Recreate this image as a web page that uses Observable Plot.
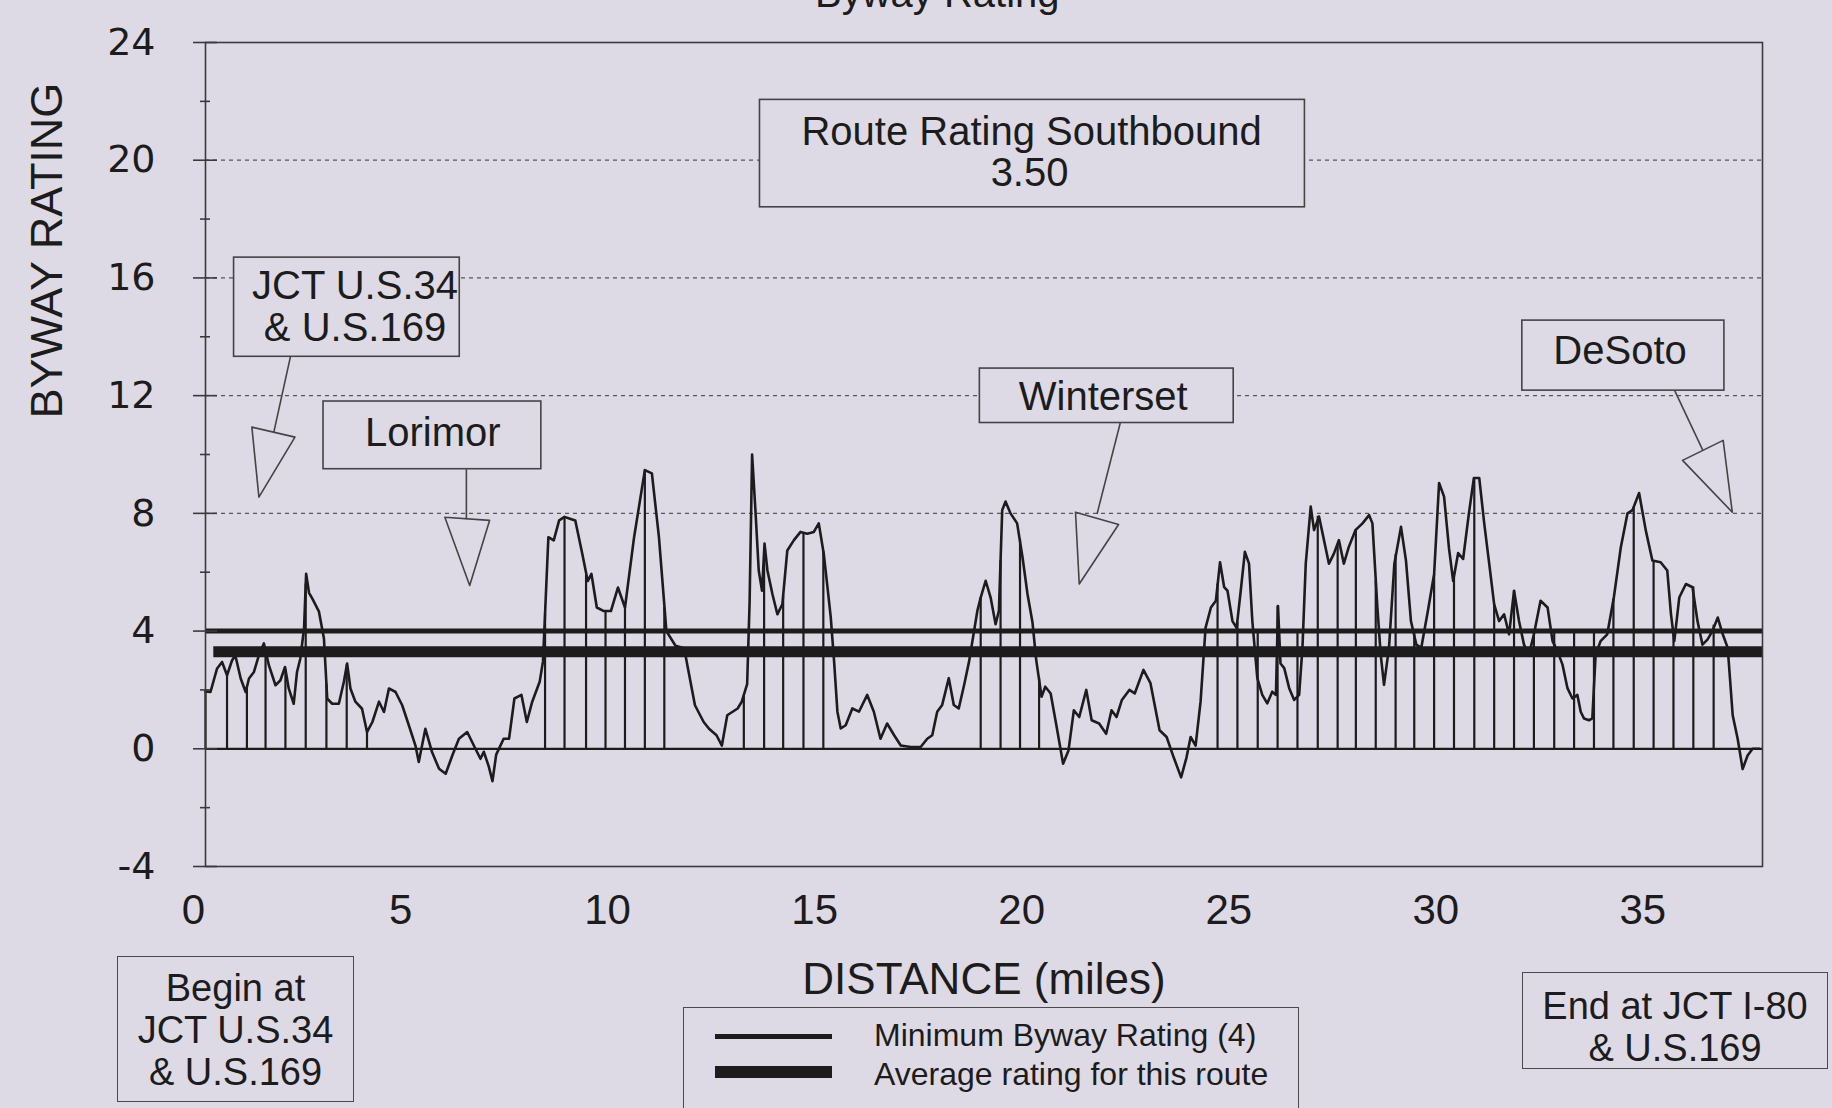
<!DOCTYPE html>
<html>
<head>
<meta charset="utf-8">
<script src="https://cdn.jsdelivr.net/npm/d3@7"></script>
<script src="https://cdn.jsdelivr.net/npm/@observablehq/plot@0.6"></script>
<style>
  html, body { margin: 0; padding: 0; background: #dedae5; overflow: hidden; }
  #wrap { position: relative; width: 1832px; height: 1108px; font-family: "Liberation Sans", Arial, sans-serif; color: #1c1c1c; }
  #chart { position: absolute; left: 0; top: 0; }
  .title { position: absolute; left: 815px; top: -30px; font-size: 40px; line-height: 46px; white-space: nowrap; }
  .box { position: absolute; box-sizing: border-box; border: 1.6px solid #4a4a4a; text-align: center; background: #dedae5; }
  #begin { left: 117px; top: 956px; width: 237px; height: 146px; font-size: 38px; line-height: 42px; padding-top: 10px; }
  #end { left: 1522px; top: 972px; width: 306px; height: 97px; font-size: 38px; line-height: 42px; padding-top: 12px; }
  #legend { left: 683px; top: 1007px; width: 616px; height: 130px; }
  .swatch { position: absolute; left: 715px; width: 117px; background: #1c1c1c; }
  .legtext { position: absolute; left: 874px; font-size: 32px; line-height: 30px; height: 30px; white-space: nowrap; }
</style>
</head>
<body>
<div id="wrap">
  <div id="chart"></div>
  <div class="title">Byway Rating</div>
  <div class="box" id="begin">Begin at<br>JCT U.S.34<br>&amp; U.S.169</div>
  <div class="box" id="end">End at JCT I-80<br>&amp; U.S.169</div>
  <div class="box" id="legend"></div>
  <div class="swatch" style="top:1034px;height:5px;"></div>
  <div class="swatch" style="top:1066px;height:12px;"></div>
  <div class="legtext" style="top:1020px;">Minimum Byway Rating (4)</div>
  <div class="legtext" style="top:1059px;">Average rating for this route</div>
</div>
<script>
// ---- data (distance in miles, byway rating) ----
const ratingProfile = [
[0.00,1.95],[0.12,1.93],[0.28,2.73],[0.40,2.95],[0.52,2.50],[0.64,3.00],[0.72,3.18],[0.85,2.39],[0.97,1.93],[1.05,2.39],
[1.17,2.61],[1.29,3.18],[1.41,3.58],[1.53,2.84],[1.69,2.16],[1.81,2.33],[1.92,2.78],[2.01,2.05],[2.13,1.53],[2.21,2.61],
[2.29,3.07],[2.38,4.09],[2.43,5.95],[2.50,5.30],[2.58,5.10],[2.74,4.66],[2.86,3.75],[2.94,1.70],[3.06,1.53],[3.22,1.53],
[3.34,2.27],[3.42,2.90],[3.50,2.05],[3.62,1.60],[3.78,1.36],[3.90,0.57],[4.03,0.91],[4.19,1.60],[4.31,1.25],[4.43,2.05],
[4.59,1.93],[4.75,1.48],[4.91,0.80],[5.07,0.11],[5.15,-0.45],[5.31,0.68],[5.47,-0.11],[5.64,-0.68],[5.80,-0.85],[5.96,-0.23],
[6.12,0.34],[6.32,0.57],[6.48,0.11],[6.64,-0.34],[6.72,-0.10],[6.84,-0.60],[6.93,-1.10],[7.02,-0.20],[7.20,0.34],[7.33,0.34],
[7.46,1.71],[7.63,1.83],[7.76,0.91],[7.89,1.60],[8.07,2.28],[8.15,2.97],[8.28,7.19],[8.41,7.08],[8.54,7.76],[8.67,7.88],
[8.80,7.82],[8.93,7.76],[9.10,6.62],[9.23,5.70],[9.32,5.94],[9.45,4.80],[9.62,4.68],[9.79,4.68],[9.96,5.48],[10.13,4.80],
[10.35,7.19],[10.61,9.47],[10.78,9.36],[10.95,7.19],[11.13,4.00],[11.35,3.50],[11.56,3.42],[11.65,2.74],[11.82,1.48],[12.03,0.91],
[12.16,0.68],[12.34,0.46],[12.47,0.11],[12.60,1.14],[12.85,1.37],[12.95,1.60],[13.08,2.20],[13.14,5.00],[13.20,10.00],[13.28,8.11],
[13.36,6.06],[13.44,5.37],[13.50,6.97],[13.57,6.06],[13.69,5.26],[13.81,4.57],[13.93,4.91],[14.05,6.74],[14.21,7.09],[14.37,7.37],
[14.53,7.31],[14.69,7.37],[14.81,7.66],[14.93,6.63],[15.02,5.49],[15.10,4.46],[15.18,2.97],[15.26,1.26],[15.34,0.69],[15.46,0.80],
[15.62,1.37],[15.78,1.26],[15.98,1.83],[16.14,1.26],[16.30,0.34],[16.46,0.86],[16.63,0.46],[16.79,0.11],[17.03,0.06],[17.27,0.06],
[17.43,0.34],[17.55,0.46],[17.67,1.26],[17.79,1.49],[17.95,2.40],[18.07,1.49],[18.19,1.37],[18.32,2.17],[18.44,2.97],[18.56,4.00],
[18.64,4.69],[18.72,5.14],[18.84,5.71],[18.96,5.14],[19.08,4.23],[19.16,4.69],[19.24,8.11],[19.32,8.40],[19.44,8.00],[19.60,7.66],
[19.73,6.51],[19.85,5.26],[19.97,4.30],[20.06,3.03],[20.19,1.77],[20.28,2.11],[20.41,1.88],[20.54,0.86],[20.71,-0.51],[20.84,-0.06],
[20.97,1.31],[21.10,1.08],[21.27,2.00],[21.40,0.97],[21.58,0.86],[21.75,0.51],[21.88,1.31],[22.00,1.08],[22.13,1.66],[22.31,2.00],
[22.44,1.88],[22.65,2.68],[22.82,2.23],[23.04,0.63],[23.21,0.40],[23.38,-0.29],[23.56,-0.97],[23.69,-0.30],[23.79,0.40],[23.91,0.11],
[24.03,1.60],[24.15,4.11],[24.28,4.80],[24.40,5.03],[24.50,6.34],[24.60,5.49],[24.68,5.37],[24.80,4.34],[24.90,4.11],[25.00,5.37],
[25.10,6.69],[25.20,6.29],[25.28,4.34],[25.40,2.40],[25.52,1.83],[25.64,1.54],[25.76,1.94],[25.85,1.83],[25.90,4.85],[25.96,2.90],
[26.05,2.74],[26.17,2.06],[26.29,1.66],[26.41,1.83],[26.49,3.43],[26.57,6.29],[26.69,8.23],[26.77,7.43],[26.89,7.89],[27.01,7.09],
[27.13,6.29],[27.25,6.63],[27.37,7.09],[27.49,6.29],[27.61,6.86],[27.77,7.43],[27.94,7.66],[28.10,7.94],[28.18,7.66],[28.30,4.80],
[28.38,3.20],[28.46,2.17],[28.58,3.43],[28.71,6.29],[28.87,7.54],[28.99,6.40],[29.11,4.34],[29.24,3.54],[29.36,3.43],[29.52,4.69],
[29.67,5.94],[29.79,9.03],[29.91,8.57],[30.03,6.80],[30.13,5.70],[30.25,6.65],[30.37,6.45],[30.51,8.00],[30.63,9.20],[30.76,9.20],
[30.88,7.66],[31.00,6.29],[31.12,4.91],[31.24,4.34],[31.36,4.57],[31.48,3.89],[31.60,5.37],[31.72,4.34],[31.84,3.54],[31.96,3.20],
[32.08,3.89],[32.24,5.03],[32.41,4.80],[32.53,3.66],[32.65,3.31],[32.77,2.86],[32.89,2.06],[33.01,1.71],[33.13,1.83],[33.21,1.26],
[33.29,1.03],[33.41,0.97],[33.49,1.03],[33.57,3.20],[33.69,3.66],[33.85,3.89],[34.01,5.14],[34.18,6.86],[34.34,8.00],[34.46,8.11],
[34.62,8.69],[34.78,7.43],[34.94,6.40],[35.14,6.34],[35.30,6.06],[35.39,4.57],[35.47,3.66],[35.59,5.14],[35.75,5.60],[35.91,5.49],
[36.03,4.34],[36.15,3.54],[36.27,3.71],[36.39,4.00],[36.52,4.46],[36.64,3.89],[36.76,3.43],[36.88,1.14],[37.00,0.34],[37.12,-0.69],
[37.24,-0.23],[37.36,0.00],[37.52,0.00]
];

// vertical segment markers: [mile, top rating]
const segmentMarkers = [
[0.00,1.95],[0.52,2.50],[1.00,2.10],[1.45,3.30],[1.93,2.70],[2.42,5.60],[2.92,2.20],[3.41,2.85],[3.90,0.57],
[8.20,4.60],[8.67,7.88],[9.19,5.90],[9.66,4.68],[10.13,4.80],[10.61,9.47],[11.08,4.80],
[13.00,1.80],[13.49,6.80],[13.95,5.20],[14.44,7.35],[14.92,6.70],
[18.72,5.14],[19.20,6.40],[19.67,7.10],[20.13,2.40],
[24.44,5.60],[24.92,4.30],[25.41,4.00],[25.89,4.85],[26.37,4.00],[26.86,7.90],[27.34,6.90],[27.78,7.45],[28.26,5.70],
[28.74,6.60],[29.19,4.00],[29.67,5.94],[30.15,5.80],[30.64,9.20],[31.12,4.91],[31.60,5.37],[32.08,4.00],[32.57,4.00],
[33.05,4.00],[33.53,4.00],[34.00,5.10],[34.49,8.20],[34.97,6.40],[35.45,4.00],[35.93,5.50],[36.42,4.20]
];

const xTicks = [0, 5, 10, 15, 20, 25, 30, 35];
const yTicks = [-4, 0, 4, 8, 12, 16, 20, 24];
const yMinorTicks = [-2, 2, 6, 10, 14, 18, 22];
const gridLevels = [8, 12, 16, 20];
const minimumRating = 4;
const averageBand = 3.3;
const averageStart = 0.2;
const routeEnd = 37.6;

// annotation callouts (data coordinates)
const calloutBoxes = [
  {x1: 13.39, x2: 26.55, y1: 18.40, y2: 22.05},
  {x1: 0.69, x2: 6.14, y1: 13.32, y2: 16.69},
  {x1: 2.85, x2: 8.11, y1: 9.50, y2: 11.80},
  {x1: 18.70, x2: 24.83, y1: 11.07, y2: 12.92},
  {x1: 31.80, x2: 36.68, y1: 12.17, y2: 14.55}
];
const calloutText = [
  {text: "Route Rating Southbound", x: 19.95, y: 20.94},
  {text: "3.50", x: 19.90, y: 19.55},
  {text: "JCT U.S.34", x: 3.61, y: 15.71},
  {text: "& U.S.169", x: 3.61, y: 14.28},
  {text: "Lorimor", x: 5.49, y: 10.72},
  {text: "Winterset", x: 21.68, y: 11.95},
  {text: "DeSoto", x: 34.16, y: 13.52}
];
const calloutLeaders = [
  {x1: 2.05, y1: 13.32, x2: 1.65, y2: 10.76},
  {x1: 6.30, y1: 9.50, x2: 6.30, y2: 7.80},
  {x1: 22.09, y1: 11.07, x2: 21.53, y2: 7.98},
  {x1: 35.48, y1: 12.17, x2: 36.16, y2: 10.14}
];
const calloutHeads = [
  ["jct", [[1.12,10.93],[2.16,10.59],[1.29,8.55]]],
  ["lorimor", [[5.78,7.87],[6.86,7.76],[6.38,5.55]]],
  ["winterset", [[21.01,8.04],[22.05,7.62],[21.10,5.60]]],
  ["desoto", [[35.67,9.80],[36.65,10.48],[36.87,8.04]]]
];

// ---- build ----
const bg = "#dedae5";
const ink = "#1c1c1c";
const profile = ratingProfile.map(([mile, rating]) => ({mile, rating}));
const markers = segmentMarkers.map(([mile, top]) => ({mile, top}));
const heads = calloutHeads.flatMap(([id, pts]) => [...pts, pts[0]].map(([x, y]) => ({id, x, y})));

const chart = Plot.plot({
  width: 1832,
  height: 1108,
  marginLeft: 205,
  marginRight: 70,
  marginTop: 42,
  marginBottom: 242,
  style: {background: "transparent", fontFamily: "Liberation Sans, Arial, sans-serif", color: ink},
  x: {domain: [0, routeEnd]},
  y: {domain: [-4, 24]},
  marks: [
    Plot.ruleY(gridLevels, {stroke: "#555", strokeWidth: 1.3, strokeDasharray: "4,4"}),
    Plot.ruleY([0], {stroke: ink, strokeWidth: 2.2}),
    Plot.ruleX(markers, {x: "mile", y1: 0, y2: "top", stroke: ink, strokeWidth: 2.2}),
    Plot.line(profile, {x: "mile", y: "rating", stroke: ink, strokeWidth: 2.6, strokeLinejoin: "round"}),
    Plot.ruleY([minimumRating], {stroke: ink, strokeWidth: 5}),
    Plot.ruleY([averageBand], {x1: averageStart, x2: routeEnd, stroke: ink, strokeWidth: 11}),
    Plot.frame({stroke: "#3a3a3a", strokeWidth: 1.6}),
    Plot.ruleY(yTicks, {x1: 0, x2: 0, insetLeft: -12, insetRight: -12, stroke: "#3a3a3a", strokeWidth: 1.6}),
    Plot.ruleY(yMinorTicks, {x1: 0, x2: 0, insetLeft: -5, insetRight: -5, stroke: "#3a3a3a", strokeWidth: 1.6}),
    Plot.axisY({ticks: yTicks, tickSize: 0, tickPadding: 50, fontSize: 38, fontFamily: "DejaVu Sans", tickFormat: (d) => String(d), label: null}),
    Plot.axisX({ticks: xTicks, tickSize: 0, tickPadding: 28, fontSize: 42, dx: -12, tickFormat: (d) => String(d), label: null}),
    Plot.text(["DISTANCE (miles)"], {frameAnchor: "bottom", dy: 113, lineAnchor: "middle", fontSize: 44, fill: ink}),
    Plot.text(["BYWAY RATING"], {frameAnchor: "left", dx: -158, dy: -36, rotate: -90, fontSize: 45, fill: ink}),
    Plot.rect(calloutBoxes, {x1: "x1", x2: "x2", y1: "y1", y2: "y2", fill: bg, stroke: "#444", strokeWidth: 1.6}),
    Plot.text(calloutText, {x: "x", y: "y", text: "text", fontSize: 40, fill: ink}),
    Plot.link(calloutLeaders, {x1: "x1", y1: "y1", x2: "x2", y2: "y2", stroke: "#444", strokeWidth: 1.6}),
    Plot.line(heads, {x: "x", y: "y", z: "id", stroke: "#444", strokeWidth: 1.6, fill: "none"})
  ]
});
document.getElementById("chart").appendChild(chart);
</script>
</body>
</html>
